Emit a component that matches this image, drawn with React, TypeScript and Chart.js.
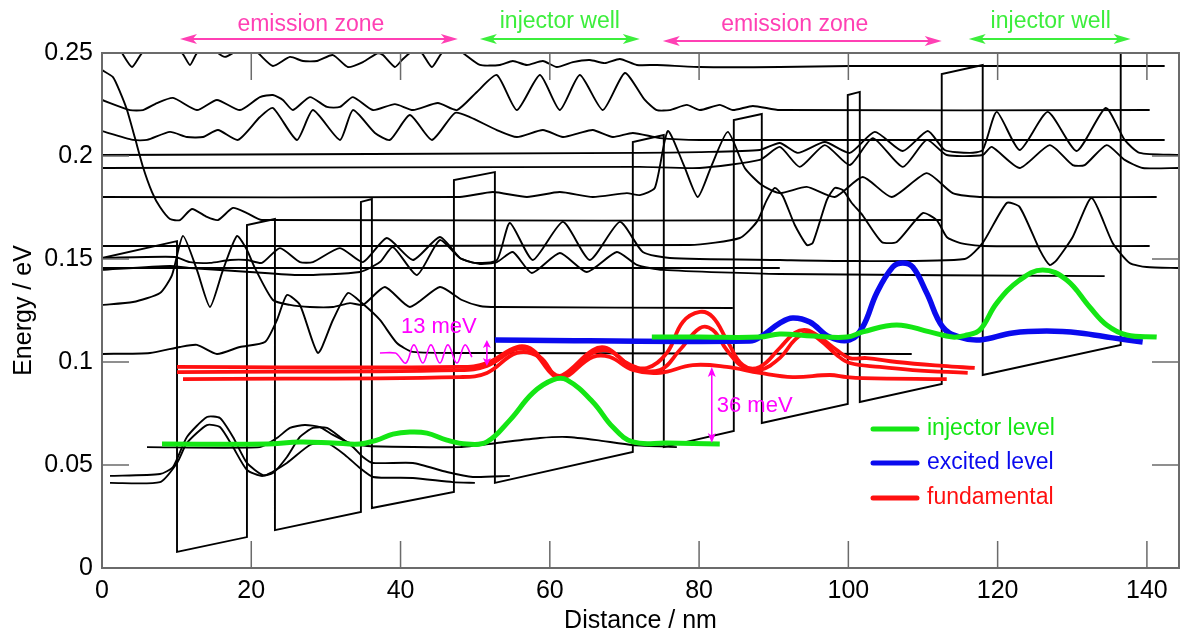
import React, { useEffect, useRef } from "react";
import { Chart, registerables } from "chart.js";

Chart.register(...registerables);

type P = [number, number];

const FONT = '"Liberation Sans", Arial, Helvetica, sans-serif';

// ---------- axes ----------
const xRange = [0, 144.3];
const yRange = [0, 0.25];
const xTickValues = [0, 20, 40, 60, 80, 100, 120, 140];
const xTickLabels = ["0", "20", "40", "60", "80", "100", "120", "140"];
const yTickValues = [0, 0.05, 0.1, 0.15, 0.2, 0.25];
const yTickLabels = ["0", "0.05", "0.1", "0.15", "0.2", "0.25"];

// ---------- conduction band edge (nm, eV) ----------
const bandEdge: P[] = [
  [0, 0.1505], [10.05, 0.1587], [10.05, 0.0078], [19.42, 0.015], [19.42, 0.1665], [23.17, 0.1694],
  [23.17, 0.0184], [34.69, 0.0272], [34.69, 0.1777], [36.16, 0.1791], [36.16, 0.0291], [47.15, 0.0369],
  [47.15, 0.1883], [52.64, 0.1922], [52.64, 0.0413], [71.12, 0.0563], [71.12, 0.2068], [75.27, 0.2102],
  [75.27, 0.0587], [84.65, 0.0665], [84.65, 0.2175], [88.4, 0.2204], [88.4, 0.0704], [99.92, 0.0796],
  [99.92, 0.2296], [101.53, 0.2311], [101.53, 0.0806], [112.51, 0.0893], [112.51, 0.2398], [118.0, 0.2442],
  [118.0, 0.0937], [136.49, 0.1083], [136.49, 0.262],
];

// ---------- black wavefunctions (|psi|^2 drawn at their level) ----------
const stateA: P[] = [
  [0, 0.2563], [1.74, 0.2563], [2.68, 0.25], [4.02, 0.2432], [5.36, 0.25], [7.77, 0.2563], [10.72, 0.25],
  [11.79, 0.2442], [12.72, 0.25], [14.47, 0.2539], [15.54, 0.25], [16.47, 0.2481], [17.55, 0.25],
  [19.15, 0.2539], [20.89, 0.25], [22.9, 0.2437], [25.18, 0.2481], [26.92, 0.2461], [28.8, 0.2461],
  [30.94, 0.249], [32.95, 0.2432], [34.96, 0.2456], [36.97, 0.25], [37.64, 0.249], [39.24, 0.2432],
  [40.18, 0.2466], [41.25, 0.25], [42.06, 0.2515], [42.86, 0.25], [44.2, 0.2432], [45.54, 0.25],
  [47.28, 0.2524], [48.35, 0.25], [50.63, 0.2442], [53.31, 0.2442], [55.05, 0.2461], [56.93, 0.2442],
  [59.07, 0.2461], [60.94, 0.2432], [63.09, 0.2456], [65.36, 0.2466], [67.37, 0.2451], [69.38, 0.2471],
  [71.66, 0.2442], [74.34, 0.2442], [80.1, 0.2432], [90.81, 0.2432], [100.19, 0.2437], [120.28, 0.2437],
  [142.38, 0.2437],
];
const stateB: P[] = [
  [0, 0.2272], [3.75, 0.2223], [5.49, 0.2223], [7.37, 0.2257], [9.51, 0.2282], [12.72, 0.2223],
  [15.4, 0.2272], [18.48, 0.2223], [21.16, 0.2286], [22.9, 0.2296], [24.24, 0.2272], [25.58, 0.2223],
  [27.86, 0.2286], [30.14, 0.2238], [31.88, 0.2238], [33.62, 0.2286], [36.3, 0.2223], [39.24, 0.2252],
  [41.66, 0.2223], [45.0, 0.2257], [47.55, 0.2223], [50.23, 0.2311], [52.91, 0.2393], [55.59, 0.2223],
  [58.67, 0.2393], [61.34, 0.2223], [64.02, 0.2393], [67.1, 0.2223], [70.05, 0.2403], [72.73, 0.2272],
  [74.34, 0.2223], [76.08, 0.2223], [78.36, 0.2248], [80.1, 0.2223], [82.77, 0.2248], [84.52, 0.2223],
  [87.2, 0.2243], [90.81, 0.2223], [140.37, 0.2223],
];
const stateC: P[] = [
  [0, 0.2121], [4.15, 0.2078], [6.03, 0.2078], [9.11, 0.2117], [11.38, 0.2092], [13.53, 0.2092],
  [15.54, 0.2126], [18.22, 0.2078], [21.16, 0.2189], [22.9, 0.2233], [26.12, 0.2078], [28.26, 0.2223],
  [31.88, 0.2078], [33.62, 0.2223], [36.57, 0.2112], [38.58, 0.2078], [41.25, 0.2199], [44.2, 0.2078],
  [47.28, 0.2209], [49.29, 0.2189], [52.91, 0.2126], [55.59, 0.2092], [59.07, 0.2126], [61.75, 0.2092],
  [64.02, 0.2112], [65.76, 0.2126], [68.44, 0.2092], [71.12, 0.2112], [74.74, 0.2087], [80.1, 0.2078],
  [142.38, 0.2078],
];
const state200: P[] = [
  [0, 0.2005], [72.06, 0.2015], [80.1, 0.2019], [88.13, 0.2029], [90.81, 0.2063], [93.22, 0.2015],
  [96.84, 0.2068], [100.19, 0.2015], [103.54, 0.2117], [107.29, 0.2024], [110.64, 0.2121], [112.91, 0.2029],
  [116.26, 0.2015], [118.0, 0.2029], [119.88, 0.2214], [122.96, 0.2029], [126.71, 0.2214], [130.59, 0.2024],
  [134.48, 0.2233], [137.02, 0.2078], [139.03, 0.2015], [144.26, 0.2005],
];
const state194: P[] = [
  [0, 0.1942], [72.06, 0.1947], [80.1, 0.1942], [88.13, 0.1981], [90.81, 0.2044], [93.49, 0.1947],
  [96.84, 0.2053], [100.19, 0.1956], [103.27, 0.2087], [107.29, 0.1947], [110.5, 0.2078], [113.18, 0.2005],
  [118.0, 0.2005], [119.21, 0.2044], [122.96, 0.1942], [126.98, 0.2053], [130.06, 0.1956], [131.66, 0.1956],
  [134.61, 0.2053], [137.02, 0.1981], [139.43, 0.1942], [144.26, 0.1942],
];
const state180: P[] = [
  [0, 0.1801], [47.95, 0.1801], [52.37, 0.1825], [56.93, 0.1801], [61.34, 0.1825], [65.76, 0.1801],
  [70.32, 0.182], [72.06, 0.181], [74.07, 0.1845], [75.81, 0.2121], [77.95, 0.1956], [79.83, 0.1801],
  [81.7, 0.1956], [83.85, 0.2117], [86.12, 0.1942], [88.4, 0.1859], [90.81, 0.182], [94.43, 0.185],
  [98.18, 0.1801], [101.93, 0.1898], [105.81, 0.1801], [110.5, 0.1917], [113.98, 0.182], [117.6, 0.1801],
  [141.31, 0.1801],
];
const state169: P[] = [
  [0, 0.2417], [1.47, 0.2383], [2.41, 0.2311], [3.35, 0.2223], [4.42, 0.2087], [5.49, 0.1947],
  [6.7, 0.1825], [7.77, 0.1752], [9.11, 0.1694], [10.45, 0.1689], [12.05, 0.1743], [14.06, 0.1704],
  [15.54, 0.1689], [17.55, 0.1748], [19.42, 0.1723], [21.43, 0.1689], [112.51, 0.1689],
];
const state156: P[] = [
  [0, 0.1563], [78.76, 0.1568], [85.45, 0.1602], [87.73, 0.168], [89.07, 0.1786], [90.14, 0.1845],
  [91.21, 0.1806], [92.82, 0.1665], [94.43, 0.1568], [95.23, 0.1578], [97.11, 0.1786], [98.18, 0.1845],
  [99.25, 0.1835], [100.46, 0.1772], [101.79, 0.1718], [104.47, 0.1583], [106.48, 0.1583], [109.96, 0.1723],
  [111.84, 0.1689], [113.18, 0.1607], [114.92, 0.1578], [118.0, 0.1563], [140.37, 0.1563],
];
const state150: P[] = [
  [0, 0.1505], [9.78, 0.151], [11.79, 0.1485], [14.47, 0.1481], [17.14, 0.1495], [19.42, 0.1495],
  [21.43, 0.1481], [23.84, 0.1553], [26.52, 0.1485], [28.26, 0.1485], [31.88, 0.1553], [34.96, 0.1485],
  [38.17, 0.1602], [41.66, 0.1495], [45.27, 0.1607], [47.95, 0.1505], [49.96, 0.1481], [52.91, 0.1495],
  [54.65, 0.1675], [57.73, 0.1495], [61.75, 0.168], [65.36, 0.1495], [69.38, 0.168], [72.46, 0.1534],
  [76.08, 0.1505], [90.81, 0.1495], [100.19, 0.149], [115.59, 0.15], [118.0, 0.1578], [121.22, 0.1772],
  [122.96, 0.1752], [125.64, 0.1544], [126.98, 0.1471], [127.91, 0.1495], [130.06, 0.1607], [132.6, 0.1796],
  [135.41, 0.1578], [137.69, 0.1481], [139.97, 0.1461], [144.26, 0.1456],
];
const state146: P[] = [[0, 0.1456], [90.81, 0.1456]];
const state143: P[] = [
  [0, 0.1447], [9.11, 0.1466], [11.79, 0.1456], [19.82, 0.1437], [26.52, 0.1422], [34.56, 0.1437],
  [37.24, 0.1485], [38.98, 0.1558], [42.19, 0.1422], [45.27, 0.1592], [47.95, 0.1505], [50.63, 0.1476],
  [52.91, 0.1485], [55.05, 0.1534], [57.59, 0.1432], [61.34, 0.1529], [64.96, 0.1437], [68.98, 0.1534],
  [71.66, 0.1471], [75.14, 0.1447], [90.81, 0.1427], [134.34, 0.1417],
];
const state126: P[] = [
  [0, 0.1277], [4.15, 0.1291], [7.77, 0.1335], [9.38, 0.1422], [10.85, 0.1612], [12.72, 0.1447],
  [14.47, 0.1267], [16.21, 0.1447], [18.08, 0.1612], [19.42, 0.1544], [20.49, 0.1456], [22.9, 0.1301],
  [25.18, 0.1277], [27.86, 0.1267], [30.94, 0.1267], [33.22, 0.1286], [34.96, 0.1277], [37.91, 0.1364],
  [41.25, 0.1267], [45.27, 0.1364], [48.22, 0.1301], [50.63, 0.1272], [52.91, 0.1267], [84.52, 0.1262],
];
const state104: P[] = [
  [0, 0.1039], [6.43, 0.1044], [10.45, 0.1073], [12.72, 0.1083], [15.4, 0.1039], [18.48, 0.1073],
  [21.83, 0.1097], [23.44, 0.1204], [24.78, 0.1325], [26.52, 0.1277], [28.93, 0.1044], [30.94, 0.1204],
  [32.95, 0.1335], [34.82, 0.1286], [37.24, 0.1204], [39.51, 0.1092], [41.66, 0.1049], [50.63, 0.1044],
  [108.49, 0.1039],
];
const lowK1: P[] = [
  [1.07, 0.0447], [7.77, 0.0456], [9.51, 0.049], [11.38, 0.0636], [14.06, 0.0733], [15.8, 0.0728],
  [17.55, 0.0636], [19.42, 0.051], [21.56, 0.0451], [22.9, 0.0461], [24.78, 0.0539], [26.52, 0.0636],
  [28.26, 0.068], [30.14, 0.068], [31.88, 0.0636], [33.62, 0.0587], [34.96, 0.0539], [36.3, 0.051],
  [41.66, 0.051], [46.21, 0.0466], [49.69, 0.0442], [54.65, 0.0447],
];
const lowK2: P[] = [
  [1.07, 0.0413], [7.77, 0.0417], [10.05, 0.051], [11.38, 0.0607], [14.06, 0.0694], [15.8, 0.0684],
  [17.55, 0.0587], [19.42, 0.0476], [21.56, 0.0447], [24.78, 0.051], [27.86, 0.0597], [30.14, 0.0607],
  [32.55, 0.0549], [34.56, 0.0485], [36.3, 0.0442], [41.66, 0.0437], [47.01, 0.0417], [49.96, 0.0413],
];
const lowK4: P[] = [
  [6.03, 0.0587], [21.16, 0.0587], [23.44, 0.0631], [25.18, 0.068], [27.19, 0.0694], [29.2, 0.0684],
  [30.94, 0.0646], [33.22, 0.0607], [35.49, 0.0592], [47.95, 0.0587], [52.91, 0.0607], [58.67, 0.0631],
  [62.28, 0.0636], [66.3, 0.0621], [71.12, 0.0597], [77.02, 0.0587],
];

// ---------- coloured states ----------
const injector1: P[] = [
  [8.04, 0.0602], [22.1, 0.0602], [26.52, 0.0612], [30.94, 0.0607], [34.56, 0.0602], [36.83, 0.0621],
  [38.98, 0.065], [41.25, 0.066], [43.53, 0.0655], [46.21, 0.0621], [48.89, 0.0602], [51.57, 0.0612],
  [54.65, 0.0718], [57.73, 0.085], [60.41, 0.0913], [62.28, 0.0913], [65.76, 0.0806], [68.44, 0.0684],
  [71.12, 0.0612], [75.68, 0.0607], [82.77, 0.0602],
];
const injector2: P[] = [
  [73.67, 0.1121], [80.1, 0.1121], [88.13, 0.1121], [90.81, 0.1136], [95.23, 0.1126], [99.79, 0.1121],
  [101.93, 0.1146], [106.48, 0.118], [110.9, 0.1146], [113.98, 0.1121], [115.86, 0.1131], [117.6, 0.1155],
  [119.88, 0.1286], [122.96, 0.1398], [126.04, 0.1447], [129.25, 0.1398], [132.33, 0.1267], [134.61, 0.118],
  [137.29, 0.1131], [141.31, 0.1121],
];
const excited: P[] = [
  [52.64, 0.1107], [86.79, 0.1102], [88.4, 0.1126], [90.81, 0.1189], [92.55, 0.1214], [94.83, 0.1194],
  [97.51, 0.1121], [100.19, 0.1107], [101.93, 0.117], [103.8, 0.1335], [105.95, 0.1461], [107.29, 0.1481],
  [108.63, 0.1461], [110.5, 0.1335], [112.64, 0.117], [114.92, 0.1121], [117.6, 0.1107], [122.02, 0.1141],
  [126.57, 0.115], [131.0, 0.1141], [135.41, 0.1117], [139.43, 0.1097],
];
const fund1: P[] = [
  [10.05, 0.0976], [47.95, 0.0976], [51.57, 0.0995], [55.59, 0.1073], [57.73, 0.1058], [60.41, 0.0947],
  [61.75, 0.0937], [65.76, 0.1058], [67.64, 0.1068], [70.32, 0.0995], [73.0, 0.0971], [75.68, 0.1044],
  [77.82, 0.1194], [80.1, 0.1243], [81.84, 0.1218], [83.71, 0.1107], [85.86, 0.0985], [88.13, 0.0976],
  [90.81, 0.1068], [92.82, 0.1141], [94.43, 0.1155], [96.17, 0.1121], [98.45, 0.1058], [100.19, 0.1019],
  [102.46, 0.1019], [106.48, 0.1], [112.64, 0.0981], [116.93, 0.0971],
];
const fund2: P[] = [
  [10.05, 0.0951], [47.95, 0.0961], [51.57, 0.0981], [55.59, 0.1063], [57.73, 0.1049], [60.41, 0.0937],
  [61.75, 0.0932], [65.76, 0.1044], [68.04, 0.1053], [71.12, 0.0976], [74.74, 0.0961], [77.42, 0.1058],
  [80.1, 0.1165], [81.84, 0.1155], [83.71, 0.1058], [85.86, 0.0976], [88.13, 0.0961], [90.81, 0.1019],
  [92.82, 0.1107], [94.43, 0.1141], [96.17, 0.1107], [98.45, 0.1034], [100.19, 0.0995], [104.21, 0.0976],
  [108.63, 0.0961], [115.99, 0.0947],
];
const fund3: P[] = [
  [10.85, 0.0917], [47.95, 0.0927], [51.57, 0.0947], [55.59, 0.1044], [58.67, 0.1024], [61.34, 0.0922],
  [65.76, 0.1024], [68.04, 0.1024], [71.12, 0.0961], [74.74, 0.0947], [79.16, 0.0985], [83.71, 0.0976],
  [88.13, 0.0947], [92.55, 0.0927], [97.51, 0.0937], [99.79, 0.0927], [101.93, 0.0922], [113.18, 0.0917],
];
const wave13: P[] = [
  [37.24, 0.1044], [39.3, 0.1044], [39.65, 0.1034], [40.72, 0.0995], [41.79, 0.1083], [42.99, 0.0995],
  [44.07, 0.1083], [45.27, 0.0995], [46.34, 0.1083], [47.55, 0.0995], [48.62, 0.1083], [49.56, 0.1024],
];

// ---------- annotations ----------
const zoneLabels = ["emission zone", "injector well", "emission zone", "injector well"];
const zoneStart = [10.45, 50.63, 75.14, 116.13];
const zoneEnd = [47.68, 72.06, 112.51, 137.82];
const zoneLabelX = [27.99, 61.34, 92.82, 127.11];
const gapLabels = ["13 meV", "36 meV"];
const gapX = [51.57, 81.7];
const gapFrom = [0.1107, 0.0976];
const gapTo = [0.0981, 0.0607];
const gapLabelX = [40.05, 82.37];
const gapLabelY = [0.1141, 0.0757];
const legendLabels = ["injector level", "excited level", "fundamental"];

// ---------- styles ----------
const GREEN = "#14e614";
const BLUE = "#0a0aee";
const RED = "#ff1010";
const MAGENTA = "#ff00ff";
const ZONE_COLORS = ["#ff40b4", "#3cee3c", "#ff40b4", "#3cee3c"];
const ZONE_ARROW_Y = [39, 39, 41, 39];
const ZONE_TEXT_Y = [31, 28, 31, 28];
const LEGEND_COLORS = [GREEN, BLUE, RED];
const LEGEND_Y = [429, 463, 498];

const toXY = (d: P[]) => d.map(([x, y]) => ({ x, y }));

function head(ctx: CanvasRenderingContext2D, x: number, y: number, ux: number, uy: number, len: number, hw: number) {
  ctx.beginPath();
  ctx.moveTo(x, y);
  ctx.lineTo(x - ux * len - uy * hw, y - uy * len + ux * hw);
  ctx.lineTo(x - ux * len * 0.75, y - uy * len * 0.75);
  ctx.lineTo(x - ux * len + uy * hw, y - uy * len - ux * hw);
  ctx.closePath();
  ctx.fill();
}

function doubleArrow(ctx: CanvasRenderingContext2D, x1: number, y1: number, x2: number, y2: number, len: number, hw: number) {
  const L = Math.hypot(x2 - x1, y2 - y1);
  const ux = (x2 - x1) / L, uy = (y2 - y1) / L;
  ctx.beginPath();
  ctx.moveTo(x1 + ux * len * 0.7, y1 + uy * len * 0.7);
  ctx.lineTo(x2 - ux * len * 0.7, y2 - uy * len * 0.7);
  ctx.stroke();
  head(ctx, x2, y2, ux, uy, len, hw);
  head(ctx, x1, y1, -ux, -uy, len, hw);
}

const decorPlugin = {
  id: "decor",
  afterDatasetsDraw(chart: any) {
    const { ctx, chartArea: a, scales } = chart;
    const xs = scales.x, ys = scales.y;
    ctx.save();
    // frame and inward ticks
    ctx.strokeStyle = "#6b6b6b";
    ctx.lineWidth = 2;
    ctx.strokeRect(a.left, a.top, a.right - a.left, a.bottom - a.top);
    ctx.lineWidth = 1.5;
    ctx.beginPath();
    xTickValues.forEach((v) => {
      const p = xs.getPixelForValue(v);
      ctx.moveTo(p, a.bottom); ctx.lineTo(p, a.bottom - 27);
      ctx.moveTo(p, a.top); ctx.lineTo(p, a.top + 27);
    });
    yTickValues.forEach((v) => {
      const p = ys.getPixelForValue(v);
      ctx.moveTo(a.left, p); ctx.lineTo(a.left + 27, p);
      ctx.moveTo(a.right, p); ctx.lineTo(a.right - 27, p);
    });
    ctx.stroke();

    // zone annotations above the plot
    ctx.font = `23px ${FONT}`;
    ctx.textAlign = "center";
    ctx.textBaseline = "alphabetic";
    zoneLabels.forEach((t, i) => {
      ctx.fillStyle = ZONE_COLORS[i];
      ctx.strokeStyle = ZONE_COLORS[i];
      ctx.lineWidth = 2;
      doubleArrow(ctx, xs.getPixelForValue(zoneStart[i]), ZONE_ARROW_Y[i], xs.getPixelForValue(zoneEnd[i]), ZONE_ARROW_Y[i], 17, 5);
      ctx.fillText(t, xs.getPixelForValue(zoneLabelX[i]), ZONE_TEXT_Y[i]);
    });

    // energy gaps
    ctx.fillStyle = MAGENTA;
    ctx.strokeStyle = MAGENTA;
    ctx.lineWidth = 1.5;
    ctx.textAlign = "left";
    ctx.font = `22px ${FONT}`;
    gapLabels.forEach((t, i) => {
      const x = xs.getPixelForValue(gapX[i]);
      doubleArrow(ctx, x, ys.getPixelForValue(gapFrom[i]), x, ys.getPixelForValue(gapTo[i]), i === 0 ? 8 : 10, 4);
      ctx.fillText(t, xs.getPixelForValue(gapLabelX[i]), ys.getPixelForValue(gapLabelY[i]));
    });

    // legend
    ctx.font = `23px ${FONT}`;
    ctx.lineCap = "round";
    legendLabels.forEach((t, i) => {
      const y = LEGEND_Y[i];
      ctx.strokeStyle = LEGEND_COLORS[i];
      ctx.fillStyle = LEGEND_COLORS[i];
      ctx.lineWidth = 5;
      ctx.beginPath();
      ctx.moveTo(873, y);
      ctx.lineTo(917, y);
      ctx.stroke();
      ctx.fillText(t, 927, y + 6);
    });
    ctx.restore();
  },
};

const blackStates: P[][] = [
  stateA, stateB, stateC, state200, state194, state180, state169, state156, state150, state146,
  state143, state126, state104, lowK1, lowK2, lowK4,
];

export default function App() {
  const ref = useRef<HTMLCanvasElement>(null);
  useEffect(() => {
    if (!ref.current) return;
    const common = { pointRadius: 0, fill: false, clip: 0 };
    const datasets: any[] = [
      ...blackStates.map((d) => ({ ...common, data: toXY(d), borderColor: "#000", borderWidth: 1.9, tension: 0.2, borderJoinStyle: "round", order: 6 })),
      { ...common, data: toXY(bandEdge), borderColor: "#000", borderWidth: 1.9, tension: 0, order: 5 },
      { ...common, data: toXY(fund1), borderColor: RED, borderWidth: 3.8, tension: 0.4, order: 3 },
      { ...common, data: toXY(fund2), borderColor: RED, borderWidth: 3.8, tension: 0.4, order: 3 },
      { ...common, data: toXY(fund3), borderColor: RED, borderWidth: 3.8, tension: 0.4, order: 3 },
      { ...common, data: toXY(excited), borderColor: BLUE, borderWidth: 5.5, tension: 0.4, order: 2 },
      { ...common, data: toXY(injector1), borderColor: GREEN, borderWidth: 5, tension: 0.4, order: 1 },
      { ...common, data: toXY(injector2), borderColor: GREEN, borderWidth: 5, tension: 0.4, order: 1 },
      { ...common, data: toXY(wave13), borderColor: MAGENTA, borderWidth: 1.6, tension: 0.4, order: 0 },
    ];
    const chart = new Chart(ref.current, {
      type: "line",
      data: { datasets },
      options: {
        responsive: false,
        animation: false,
        events: [],
        layout: { padding: { left: 0, right: 5, top: 53, bottom: 0 } },
        plugins: { legend: { display: false }, tooltip: { enabled: false } },
        scales: {
          x: {
            type: "linear",
            min: xRange[0],
            max: xRange[1],
            grid: { display: false, drawTicks: false },
            border: { display: false },
            afterBuildTicks: (s: any) => { s.ticks = xTickValues.map((v) => ({ value: v })); },
            afterFit: (s: any) => { s.height = 69; },
            ticks: {
              color: "#000", font: { family: FONT, size: 25 }, padding: 8, maxRotation: 0, autoSkip: false,
              callback: (_v: any, i: number) => xTickLabels[i],
            },
            title: { display: true, text: "Distance / nm", color: "#000", font: { family: FONT, size: 25 }, padding: { top: 0, bottom: 1 } },
          },
          y: {
            type: "linear",
            min: yRange[0],
            max: yRange[1],
            grid: { display: false, drawTicks: false },
            border: { display: false },
            afterBuildTicks: (s: any) => { s.ticks = yTickValues.map((v) => ({ value: v })); },
            afterFit: (s: any) => { s.width = 102; },
            ticks: {
              color: "#000", font: { family: FONT, size: 25 }, padding: 9, autoSkip: false,
              callback: (_v: any, i: number) => yTickLabels[i],
            },
            title: { display: true, text: "Energy / eV", color: "#000", font: { family: FONT, size: 25 }, padding: { top: 9, bottom: 0 } },
          },
        },
      } as any,
      plugins: [decorPlugin],
    });
    return () => chart.destroy();
  }, []);
  return (
    <div style={{ position: "fixed", left: 0, top: 0, width: 1184, height: 637, background: "#fff" }}>
      <canvas ref={ref} width={1184} height={637} style={{ display: "block" }} />
    </div>
  );
}
